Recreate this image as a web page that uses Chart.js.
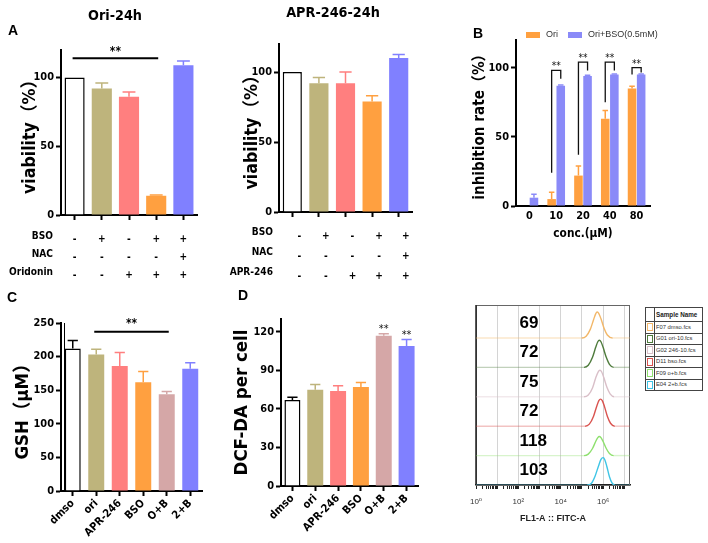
<!DOCTYPE html>
<html><head><meta charset="utf-8">
<script src="https://cdn.jsdelivr.net/npm/chart.js@4.4.1/dist/chart.umd.min.js"></script>
<style>
html,body{margin:0;padding:0;background:#fff}
body{width:708px;height:543px;position:relative;overflow:hidden}
canvas{position:absolute}
.lbl{position:absolute;white-space:nowrap;line-height:1;color:#000;font-weight:bold}
#samp{position:absolute;left:645px;top:307px;border-collapse:collapse;font-family:'Liberation Sans',Arial,sans-serif;font-size:5.8px;color:#333;width:58px;table-layout:fixed}
#samp td{border:1px solid #444;padding:0 1px;height:10.5px;line-height:9px;white-space:nowrap;overflow:hidden}
#samp td.sw{width:7px;padding:0 1px}
#samp span{display:inline-block;width:4px;height:6px;border:1px solid;vertical-align:middle}
</style></head><body>
<canvas id="cA1" width="215" height="285" style="left:0;top:0"></canvas>
<canvas id="cA2" width="200" height="285" style="left:220px;top:0"></canvas>
<canvas id="cB" width="268" height="241" style="left:440px;top:0"></canvas>
<canvas id="cC" width="215" height="258" style="left:0;top:285px"></canvas>
<canvas id="cD" width="240" height="258" style="left:220px;top:285px"></canvas>
<canvas id="cE" width="180" height="250" style="left:460px;top:290px"></canvas>
<table id="samp"><colgroup><col style="width:9px"><col></colgroup><tbody id="sampBody"></tbody></table>
<script>
// ================= DATA =================
// Panel A (left): Ori-24h viability
const oriViability = [100, 92, 86, 14, 109];
const oriViabilitySem = [0, 4, 3.5, 0.5, 3];
const oriTableRows = ['BSO', 'NAC', 'Oridonin'];
const oriTable = [['-','+','-','+','+'], ['-','-','-','-','+'], ['-','-','+','+','+']];
const oriSig = {from: 0, to: 3, level: 114, text: '**'};

// Panel A (right): APR-246-24h viability
const aprViability = [100, 92, 92, 79, 110];
const aprViabilitySem = [0, 4, 8, 4, 2.5];
const aprTableRows = ['BSO', 'NAC', 'APR-246'];
const aprTable = [['-','+','-','+','+'], ['-','-','-','-','+'], ['-','-','+','+','+']];

// Panel B: inhibition rate
const concLabels = ['0', '10', '20', '40', '80'];
const inhibOri = [0, 5, 22, 63, 85];
const inhibOriSem = [0, 5, 7, 6, 1.5];
const inhibOriBso = [6, 87, 94, 95, 95];
const inhibOriBsoSem = [2.5, 0.5, 0.5, 0.5, 0.5];
const inhibBracketLow = [null, 24, 37, 75, 95];
const inhibBracketTop = [null, 98, 104, 104, 100];
const inhibBracketEnd = [null, 92, 98, 98, 96.5];
const inhibStars = ['', '**', '**', '**', '**'];
const seriesNames = ['Ori', 'Ori+BSO(0.5mM)'];

// Panels C & D
const treatLabels = ['dmso', 'ori', 'APR-246', 'BSO', 'O+B', '2+B'];
const gsh = [212, 203, 186, 162, 144, 182];
const gshSem = [12, 8, 20, 16, 4, 9];
const gshSig = {from: 1, to: 4, level: 237, text: '**'};
const dcf = [67, 75, 74, 77, 117, 109];
const dcfSem = [2, 4, 4, 3.5, 1.5, 5];
const dcfStars = ['', '', '', '', '**', '**'];

// Flow cytometry overlay (log10 FITC-A, relative count)
const flowSamples = ['F07 dmso.fcs', 'G01 ori-10.fcs', 'G02 246-10.fcs', 'D11 bso.fcs', 'F09 o+b.fcs', 'E04 2+b.fcs'];
const flowMfi = [69, 72, 75, 72, 118, 103];
const flowLogX = [
  [0, 5.0, 5.2, 5.4, 5.55, 5.65, 5.72, 5.8, 5.9, 6.05, 6.2, 6.45, 7.27],
  [0, 5.1, 5.3, 5.5, 5.65, 5.75, 5.82, 5.9, 6.0, 6.15, 6.3, 6.5, 7.27],
  [0, 5.1, 5.3, 5.5, 5.65, 5.77, 5.85, 5.93, 6.03, 6.18, 6.33, 6.52, 7.27],
  [0, 5.15, 5.35, 5.55, 5.7, 5.8, 5.88, 5.96, 6.06, 6.2, 6.35, 6.55, 7.27],
  [0, 5.1, 5.3, 5.5, 5.65, 5.75, 5.82, 5.9, 6.0, 6.15, 6.3, 6.5, 7.27],
  [0, 5.25, 5.45, 5.62, 5.78, 5.9, 6.0, 6.08, 6.18, 6.3, 6.42, 6.55, 7.27]
];
const flowHeight = [
  [0, 0, 0.06, 0.3, 0.62, 0.82, 0.88, 0.83, 0.65, 0.32, 0.1, 0, 0],
  [0, 0, 0.07, 0.34, 0.68, 0.87, 0.92, 0.87, 0.68, 0.34, 0.1, 0, 0],
  [0, 0, 0.06, 0.3, 0.64, 0.85, 0.9, 0.85, 0.66, 0.32, 0.1, 0, 0],
  [0, 0, 0.07, 0.34, 0.68, 0.87, 0.92, 0.87, 0.68, 0.34, 0.1, 0, 0],
  [0, 0, 0.05, 0.24, 0.48, 0.61, 0.65, 0.61, 0.48, 0.24, 0.07, 0, 0],
  [0, 0, 0.06, 0.3, 0.64, 0.87, 0.93, 0.86, 0.62, 0.28, 0.07, 0, 0]
];

// ================= STYLE =================
const colors5 = ['#FFFFFF', '#BEB47C', '#FF7F7F', '#FFA040', '#8080FF'];
const colors6 = ['#FFFFFF', '#BEB47C', '#FF7F7F', '#FFA040', '#D5A7A7', '#8080FF'];
const seriesColors = ['#FFA040', '#8A8AF8'];
const flowColors = ['#F2B769', '#4E7B3C', '#D9BFC8', '#D9534F', '#8EE06E', '#3FC5E6'];

function hasFont(f) {
  const c = document.createElement('canvas').getContext('2d');
  const s = 'mmmmmmmmmmWWlli0123456789';
  c.font = '40px monospace'; const a = c.measureText(s).width;
  c.font = '40px "' + f + '", monospace'; const b = c.measureText(s).width;
  return Math.abs(a - b) > 0.5;
}
let FAM, K;
if (hasFont('Liberation Sans Narrow')) { FAM = '"Liberation Sans Narrow", "Noto Sans CJK SC", sans-serif'; K = 1; }
else if (hasFont('DejaVu Sans Condensed')) { FAM = '"DejaVu Sans Condensed", "Noto Sans CJK SC", sans-serif'; K = 0.84; }
else { FAM = '"Liberation Sans", "Noto Sans CJK SC", sans-serif'; K = 0.86; }

Chart.defaults.font.family = FAM;
Chart.defaults.font.weight = 'bold';
Chart.defaults.color = '#000';
Chart.defaults.animation = false;
Chart.defaults.plugins.legend.display = false;
Chart.defaults.plugins.tooltip.enabled = false;

function addText(txt, x, y, size, anchor, fam) {
  const d = document.createElement('div');
  d.className = 'lbl'; d.textContent = txt;
  d.style.left = x + 'px'; d.style.top = y + 'px';
  d.style.fontSize = size + 'px';
  d.style.fontFamily = fam || FAM;
  d.style.transform = 'translate(' + anchor + ',-50%)';
  document.body.appendChild(d);
}

const errPlugin = {
  id: 'errbars',
  afterDatasetsDraw(chart) {
    const ctx = chart.ctx;
    chart.data.datasets.forEach((ds, di) => {
      if (!ds.sem) return;
      const meta = chart.getDatasetMeta(di);
      const ys = chart.scales[meta.yAxisID];
      meta.data.forEach((el, i) => {
        const e = ds.sem[i]; if (!e) return;
        const top = ys.getPixelForValue(ds.data[i] + e);
        const col = Array.isArray(ds.errorColor) ? ds.errorColor[i] : ds.errorColor;
        const half = el.width * 0.32;
        ctx.save(); ctx.strokeStyle = col; ctx.lineWidth = 1.5;
        ctx.beginPath(); ctx.moveTo(el.x, el.y); ctx.lineTo(el.x, top);
        ctx.moveTo(el.x - half, top); ctx.lineTo(el.x + half, top); ctx.stroke(); ctx.restore();
      });
    });
  }
};

function sigPlugin(sig, lift) {
  return { id: 'sig', afterDatasetsDraw(ch) {
    const {ctx} = ch; const x = ch.scales.x, y = ch.scales.y;
    const x1 = x.getPixelForValue(sig.from) - 2, x2 = x.getPixelForValue(sig.to) + 2, yy = y.getPixelForValue(sig.level);
    ctx.save(); ctx.strokeStyle = '#000'; ctx.lineWidth = 2;
    ctx.beginPath(); ctx.moveTo(x1, yy); ctx.lineTo(x2, yy); ctx.stroke();
    ctx.fillStyle = '#000'; ctx.font = 'bold ' + (14 * K) + 'px ' + FAM;
    ctx.textAlign = 'center'; ctx.textBaseline = 'alphabetic';
    ctx.fillText(sig.text, (x1 + x2) / 2, yy - lift);
    ctx.restore();
  }};
}

function yAxis(o) {
  const ts = o.tsize * K;
  return {
    min: 0, max: o.max,
    ticks: {stepSize: o.step, includeBounds: false, font: {size: 13 * K}, padding: 2},
    grid: {drawOnChartArea: false, tickLength: 5, tickColor: '#000', tickWidth: 2},
    border: {color: '#000', width: 2},
    title: {display: true, text: o.title, font: {size: ts}, padding: {top: o.tx - ts * 0.6, bottom: 0}},
    afterFit(s) { s.width = o.width; }
  };
}
function tableAxis(h, pad, lh, off) {
  return {
    grid: {offset: false, drawOnChartArea: false, tickLength: 5, tickColor: '#000', tickWidth: 2},
    border: {color: '#000', width: 2},
    ticks: {autoSkip: false, maxRotation: 0, font: {size: 12 * K, lineHeight: lh + 'px'}, padding: pad, labelOffset: off},
    afterFit(s) { s.height = h; }
  };
}
function rotAxis(h) {
  return {
    grid: {offset: false, drawOnChartArea: false, tickLength: 5, tickColor: '#000', tickWidth: 2},
    border: {color: '#000', width: 2},
    ticks: {autoSkip: false, minRotation: 45, maxRotation: 45, font: {size: 13 * K}, padding: 1},
    afterFit(s) { s.height = h; }
  };
}
function barDs(values, sem, cols, bp) {
  return {data: values, sem: sem, backgroundColor: cols,
    borderColor: cols.map((c, i) => i === 0 ? '#000' : c), borderWidth: cols.map((c, i) => i === 0 ? 1.5 : 0),
    errorColor: cols.map((c, i) => i === 0 ? '#000' : c), barPercentage: bp, categoryPercentage: 1};
}
const cols = t => t[0].map((_, i) => t.map(r => r[i]));

// ---------- A1 ----------
new Chart(document.getElementById('cA1'), {
  type: 'bar',
  data: {labels: cols(oriTable), datasets: [barDs(oriViability, oriViabilitySem, colors5, 0.74)]},
  options: {responsive: false, layout: {padding: {top: 50, right: 18, left: 0, bottom: 0}},
    scales: {x: tableAxis(70, 10, 18, 0), y: yAxis({max: 120, step: 50, title: 'viability（%）', tsize: 21, tx: 30, width: 61})}},
  plugins: [errPlugin, sigPlugin(oriSig, 3)]
});
// ---------- A2 ----------
new Chart(document.getElementById('cA2'), {
  type: 'bar',
  data: {labels: cols(aprTable), datasets: [barDs(aprViability, aprViabilitySem, colors5, 0.72)]},
  options: {responsive: false, layout: {padding: {top: 44, right: 8, left: 0, bottom: 0}},
    scales: {x: tableAxis(73, 9, 20, 7), y: yAxis({max: 120, step: 50, title: 'viability（%）', tsize: 21, tx: 32, width: 59})}},
  plugins: [errPlugin]
});
// ---------- B ----------
const bracketPlugin = {id: 'brk', afterDatasetsDraw(ch) {
  const {ctx} = ch; const y = ch.scales.y;
  const m0 = ch.getDatasetMeta(0), m1 = ch.getDatasetMeta(1);
  ctx.save(); ctx.strokeStyle = '#111'; ctx.lineWidth = 1.3; ctx.fillStyle = '#111';
  ctx.font = (12 * K) + 'px ' + FAM; ctx.textAlign = 'center'; ctx.textBaseline = 'alphabetic';
  inhibStars.forEach((s, i) => {
    if (!s) return;
    const xa = m0.data[i].x, xb = m1.data[i].x;
    const yl = y.getPixelForValue(inhibBracketLow[i]), yt = y.getPixelForValue(inhibBracketTop[i]), ye = y.getPixelForValue(inhibBracketEnd[i]);
    ctx.beginPath(); ctx.moveTo(xa, yl); ctx.lineTo(xa, yt); ctx.lineTo(xb, yt); ctx.lineTo(xb, ye); ctx.stroke();
    ctx.fillText(s, (xa + xb) / 2, yt - 1);
  });
  ctx.restore();
}};
const legendB = {id: 'legB', afterDraw(ch) {
  const {ctx, chartArea} = ch; let x = chartArea.left + 10; const yc = chartArea.top - 5;
  ctx.save(); ctx.font = '9px "Liberation Sans", sans-serif'; ctx.textBaseline = 'middle';
  ch.data.datasets.forEach(ds => {
    ctx.fillStyle = ds.backgroundColor; ctx.fillRect(x, yc - 3, 14, 6); x += 20;
    ctx.fillStyle = '#333'; ctx.fillText(ds.label, x, yc); x += ctx.measureText(ds.label).width + 10;
  });
  ctx.restore();
}};
new Chart(document.getElementById('cB'), {
  type: 'bar',
  data: {labels: concLabels, datasets: [
    {label: seriesNames[0], data: inhibOri, sem: inhibOriSem, backgroundColor: seriesColors[0], errorColor: seriesColors[0], barPercentage: 0.94, categoryPercentage: 0.68},
    {label: seriesNames[1], data: inhibOriBso, sem: inhibOriBsoSem, backgroundColor: seriesColors[1], errorColor: seriesColors[1], barPercentage: 0.94, categoryPercentage: 0.68}
  ]},
  options: {responsive: false, layout: {padding: {top: 40, right: 58, left: 0, bottom: 0}},
    scales: {
      x: {grid: {display: true, drawOnChartArea: false, drawTicks: false}, border: {color: '#000', width: 2},
          ticks: {font: {size: 13 * K}, padding: 4},
          title: {display: true, text: 'conc.(μM)', font: {size: 14 * K}, padding: {top: 0, bottom: 0}},
          afterFit(s) { s.height = 35; }},
      y: yAxis({max: 120, step: 50, title: 'inhibition rate（%）', tsize: 18, tx: 40, width: 76})
    }},
  plugins: [errPlugin, bracketPlugin, legendB]
});
// ---------- C ----------
const doubleAxis = {id: 'dbl', afterDraw(ch) {
  const {ctx, chartArea: a} = ch; ctx.save(); ctx.strokeStyle = '#000'; ctx.lineWidth = 1;
  ctx.beginPath(); ctx.moveTo(a.left + 3.5, a.top); ctx.lineTo(a.left + 3.5, a.bottom); ctx.stroke(); ctx.restore();
}};
new Chart(document.getElementById('cC'), {
  type: 'bar',
  data: {labels: treatLabels, datasets: [barDs(gsh, gshSem, colors6, 0.68)]},
  options: {responsive: false, layout: {padding: {top: 38, right: 13, left: 0, bottom: 0}},
    scales: {x: rotAxis(52), y: yAxis({max: 250, step: 50, title: 'GSH（μM）', tsize: 22, tx: 23, width: 61})}},
  plugins: [errPlugin, sigPlugin(gshSig, 5), doubleAxis]
});
// ---------- D ----------
const starPlugin = {id: 'stars', afterDatasetsDraw(ch) {
  const {ctx} = ch; const y = ch.scales.y; const m = ch.getDatasetMeta(0);
  ctx.save(); ctx.fillStyle = '#111'; ctx.font = (13 * K) + 'px ' + FAM; ctx.textAlign = 'center'; ctx.textBaseline = 'alphabetic';
  dcfStars.forEach((s, i) => { if (!s) return; const top = y.getPixelForValue(dcf[i] + dcfSem[i]); ctx.fillText(s, m.data[i].x, top - 2); });
  ctx.restore();
}};
new Chart(document.getElementById('cD'), {
  type: 'bar',
  data: {labels: treatLabels, datasets: [barDs(dcf, dcfSem, colors6, 0.7)]},
  options: {responsive: false, layout: {padding: {top: 34, right: 42, left: 0, bottom: 0}},
    scales: {x: rotAxis(57), y: yAxis({max: 130, step: 30, title: 'DCF-DA per cell', tsize: 22, tx: 22, width: 61})}},
  plugins: [errPlugin, starPlugin]
});
// ---------- E (flow) ----------
function faint(hex) {
  const n = parseInt(hex.slice(1), 16);
  return 'rgba(' + (n >> 16) + ',' + ((n >> 8) & 255) + ',' + (n & 255) + ',0.35)';
}
const sup = ['⁰', '¹', '²', '³', '⁴', '⁵', '⁶', '⁷'];
const isMajor = v => Math.abs(v - Math.round(v)) < 1e-9;
const frameE = {id: 'frame', beforeDatasetsDraw(ch) {
  const {ctx, chartArea: a} = ch; ctx.save();
  ctx.strokeStyle = '#666'; ctx.lineWidth = 1; ctx.strokeRect(a.left + 0.5, a.top + 0.5, a.right - a.left - 1, a.bottom - a.top);
  ctx.strokeStyle = '#222'; ctx.lineWidth = 1.5; ctx.beginPath(); ctx.moveTo(a.left, a.top); ctx.lineTo(a.left, a.bottom); ctx.stroke();
  ctx.restore();
}};
const mfiPlugin = {id: 'mfi', afterDatasetsDraw(ch) {
  const {ctx} = ch; const xs = ch.scales.x, ys = ch.scales.y; const n = flowMfi.length;
  ctx.save(); ctx.fillStyle = '#000'; ctx.font = 'bold 17px "Liberation Sans", sans-serif'; ctx.textBaseline = 'middle';
  flowMfi.forEach((v, i) => ctx.fillText(String(v), xs.getPixelForValue(2.05), ys.getPixelForValue(n - 1 - i + 0.5)));
  ctx.restore();
}};
new Chart(document.getElementById('cE'), {
  type: 'line',
  data: {datasets: flowSamples.map((s, i) => ({
    label: s,
    data: flowLogX[i].map((x, j) => ({x: x, y: flowSamples.length - 1 - i + flowHeight[i][j], h: flowHeight[i][j]})),
    borderColor: flowColors[i], borderWidth: 1.4, pointRadius: 0, fill: false, cubicInterpolationMode: 'monotone',
    segment: {borderColor: c => (c.p0.raw.h === 0 && c.p1.raw.h === 0) ? faint(flowColors[i]) : flowColors[i]}
  }))},
  options: {responsive: false, layout: {padding: {top: 15, left: 16, right: 10, bottom: 0}},
    scales: {
      x: {type: 'linear', min: 0, max: 7.27,
        afterBuildTicks(s) { const t = []; for (let n = 0; n <= 7; n++) for (let k = 1; k <= 9; k++) { const v = n + Math.log10(k); if (v <= 7.27) t.push({value: v}); } s.ticks = t; },
        ticks: {autoSkip: false, maxRotation: 0, color: '#333', padding: 8, font: {size: 8, weight: 'normal', family: '"Liberation Sans", "DejaVu Sans", sans-serif'},
          callback: v => (isMajor(v) && Math.round(v) % 2 === 0) ? '10' + sup[Math.round(v)] : ''},
        grid: {color: c => (c.tick && isMajor(c.tick.value) && c.tick.value > 0.5) ? '#d4d4d4' : 'rgba(0,0,0,0)', tickColor: '#222', tickLength: 4, lineWidth: 1},
        border: {color: '#222', width: 1.5},
        title: {display: true, text: 'FL1-A :: FITC-A', color: '#222', font: {size: 9, family: '"Liberation Sans", sans-serif'}, padding: {top: 0, bottom: 16}},
        afterFit(s) { s.height = 55; }},
      y: {display: false, min: 0, max: 6.12}
    }},
  plugins: [frameE, mfiPlugin]
});

// ---------- HTML text ----------
const PF = '"Liberation Sans", sans-serif';
addText('A', 13, 30, 14, '-50%', PF);
addText('B', 478, 33, 14, '-50%', PF);
addText('C', 12, 297, 14, '-50%', PF);
addText('D', 243, 295, 14, '-50%', PF);
addText('Ori-24h', 115, 15, 17 * K, '-50%');
addText('APR-246-24h', 333, 12, 17 * K, '-50%');
const oriRowY = [236, 254, 272], aprRowY = [232, 252, 272];
oriTableRows.forEach((r, i) => addText(r, 53, oriRowY[i], 12 * K, '-100%'));
aprTableRows.forEach((r, i) => addText(r, 273, aprRowY[i], 12 * K, '-100%'));

const tb = document.getElementById('sampBody');
let html = '<tr><td class="sw"></td><td style="font-weight:bold;font-size:6.3px;color:#222;height:13px">Sample Name</td></tr>';
flowSamples.forEach((s, i) => { html += '<tr><td class="sw"><span style="border-color:' + flowColors[i] + '"></span></td><td>' + s + '</td></tr>'; });
tb.innerHTML = html;
</script>
</body></html>
